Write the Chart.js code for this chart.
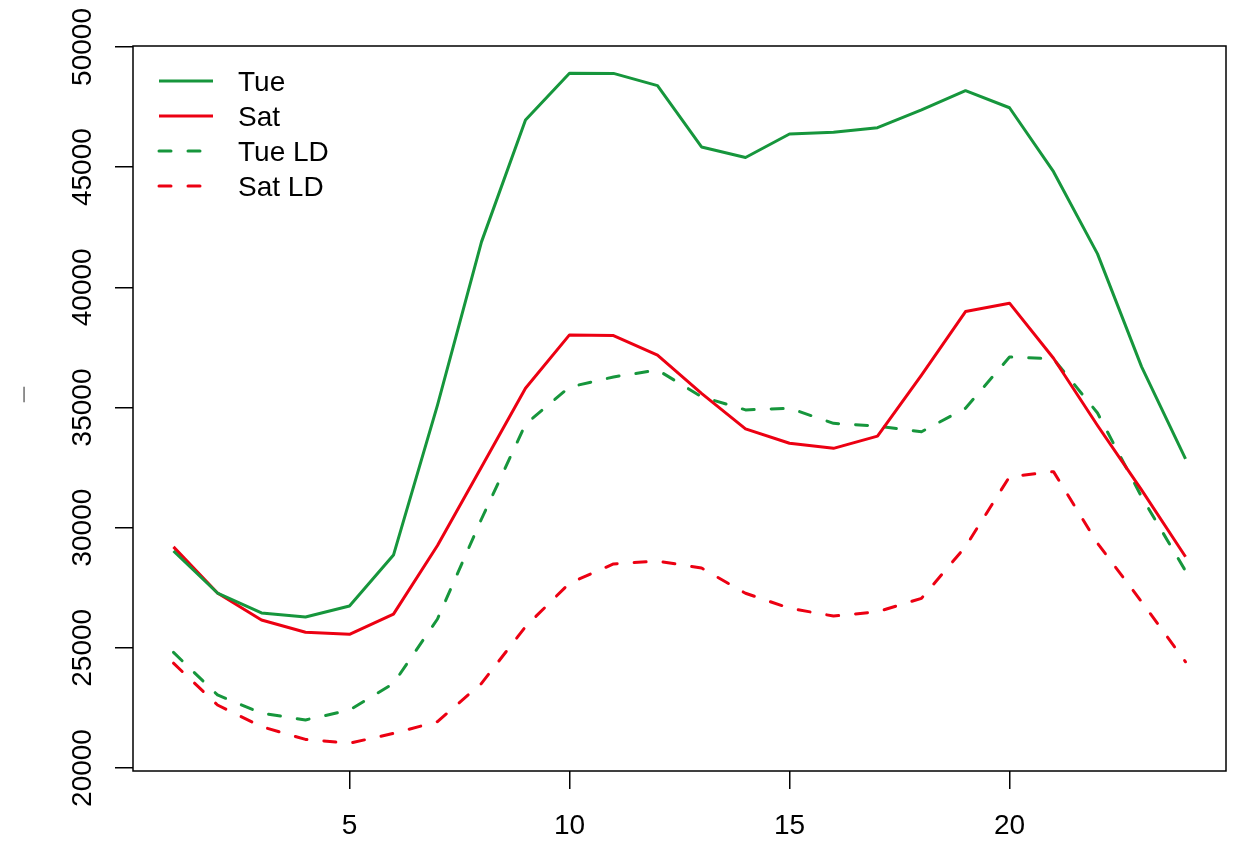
<!DOCTYPE html>
<html>
<head>
<meta charset="utf-8">
<title>Tue / Sat</title>
<script src="https://cdn.jsdelivr.net/npm/chart.js@4.4.1/dist/chart.umd.min.js"></script>
<style>
  html, body { margin: 0; padding: 0; background: #fff; }
  #wrap { width: 1240px; height: 841px; }
</style>
</head>
<body>
<div id="wrap"><canvas id="chart" width="1240" height="841"></canvas></div>
<script>
// hour of day, 1..24
const hours = [1, 2, 3, 4, 5, 6, 7, 8, 9, 10, 11, 12, 13, 14, 15, 16, 17, 18, 19, 20, 21, 22, 23, 24];

const tue = [29030, 27280, 26450, 26280, 26740, 28860, 35100, 41890, 46960, 48910, 48900, 48390,
             45840, 45400, 46380, 46450, 46640, 47380, 48180, 47470, 44810, 41390, 36700, 32860];
const sat = [29200, 27280, 26160, 25650, 25560, 26400, 29260, 32520, 35800, 38020, 37990, 37180,
             35590, 34110, 33510, 33300, 33810, 36350, 38990, 39340, 37050, 34250, 31570, 28790];
const tueLD = [24810, 23040, 22280, 22000, 22410, 23520, 26200, 30360, 34300, 35850, 36270, 36560,
               35450, 34900, 34970, 34340, 34230, 33990, 34970, 37100, 37020, 34770, 31290, 28200];
const satLD = [24360, 22620, 21720, 21190, 21030, 21440, 21930, 23520, 25880, 27690, 28490, 28610,
               28320, 27270, 26650, 26320, 26500, 27060, 29210, 32120, 32330, 29350, 26920, 24420];

const xTicks = [5, 10, 15, 20];
const yTicks = [20000, 25000, 30000, 35000, 40000, 45000, 50000];

const GREEN = "#16963c";
const RED = "#ec0012";
const FONT = "'Liberation Sans', Arial, Helvetica, sans-serif";

Chart.defaults.font.family = FONT;
Chart.defaults.color = "#000";

function pts(values) {
  return hours.map((h, i) => ({ x: h, y: values[i] }));
}

function series(label, values, color, dashed) {
  return {
    label,
    data: pts(values),
    borderColor: color,
    backgroundColor: color,
    borderWidth: 3,
    borderDash: dashed ? [12, 17] : [],
    borderCapStyle: dashed ? "round" : "butt",
    borderJoinStyle: "round",
    pointRadius: 0,
    tension: 0,
    fill: false,
  };
}

// box round the plot region, like R's bty="o"
const framePlugin = {
  id: "frame",
  afterDraw(chart) {
    const { ctx, chartArea: a } = chart;
    ctx.save();
    ctx.strokeStyle = "#000";
    ctx.lineWidth = 1.5;
    ctx.strokeRect(a.left, a.top, a.right - a.left, a.bottom - a.top);
    ctx.restore();
  },
};

// legend inside the top-left corner
const legendPlugin = {
  id: "rLegend",
  afterDraw(chart) {
    const { ctx, chartArea: a } = chart;
    ctx.save();
    ctx.font = "28px " + FONT;
    ctx.textBaseline = "alphabetic";
    ctx.fillStyle = "#000";
    chart.data.datasets.forEach((ds, i) => {
      const y = a.top + 35 + i * 35;
      const x0 = a.left + 26;
      ctx.strokeStyle = ds.borderColor;
      ctx.lineWidth = ds.borderWidth;
      ctx.lineCap = ds.borderCapStyle;
      ctx.setLineDash(ds.borderDash);
      ctx.beginPath();
      ctx.moveTo(x0, y);
      ctx.lineTo(x0 + 54, y);
      ctx.stroke();
      ctx.fillText(ds.label, a.left + 105, y + 10);
    });
    ctx.restore();
  },
};

new Chart(document.getElementById("chart"), {
  type: "line",
  data: {
    datasets: [
      series("Tue", tue, GREEN, false),
      series("Sat", sat, RED, false),
      series("Tue LD", tueLD, GREEN, true),
      series("Sat LD", satLD, RED, true),
    ],
  },
  options: {
    responsive: false,
    animation: false,
    events: [],
    layout: { padding: { top: 46, right: 14, left: 0, bottom: 0 } },
    plugins: {
      legend: { display: false },
      tooltip: { enabled: false },
    },
    scales: {
      x: {
        type: "linear",
        position: "bottom",
        min: 0.08,
        max: 24.92,
        afterBuildTicks: (s) => { s.ticks = xTicks.map((v) => ({ value: v })); },
        afterFit: (s) => { s.height = 70; },
        border: { display: false },
        grid: { drawOnChartArea: false, drawTicks: true, tickLength: 18, color: "#000", lineWidth: 1.5 },
        ticks: { font: { size: 28 }, color: "#000", padding: 20, maxRotation: 0 },
      },
      y: {
        type: "linear",
        position: "left",
        min: 19875,
        max: 50040,
        afterBuildTicks: (s) => { s.ticks = yTicks.map((v) => ({ value: v })); },
        afterFit: (s) => { s.width = 133; },
        border: { display: false },
        grid: { drawOnChartArea: false, drawTicks: true, tickLength: 18, color: "#000", lineWidth: 1.5 },
        ticks: {
          font: { size: 28 },
          color: "#000",
          minRotation: 90,
          maxRotation: 90,
          crossAlign: "center",
          padding: -7,
          callback: (v) => String(v),
        },
        title: {
          display: true,
          text: "\u2003\u2013",
          color: "#8a8a8a",
          font: { size: 28 },
          padding: { top: 6, bottom: 0 },
        },
      },
    },
  },
  plugins: [framePlugin, legendPlugin],
});
</script>
</body>
</html>
